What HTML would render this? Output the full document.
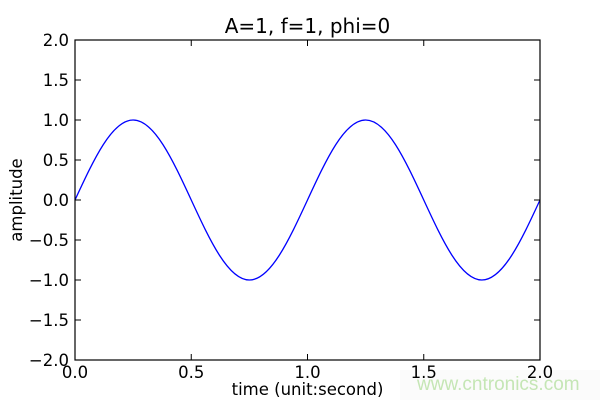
<!DOCTYPE html>
<html>
<head>
<meta charset="utf-8">
<style>
html,body{margin:0;padding:0;background:#fff;}
svg{display:block;}
text{font-family:"DejaVu Sans","Liberation Sans",sans-serif;fill:#000;}
</style>
</head>
<body>
<svg width="600" height="400" viewBox="0 0 600 400" xmlns="http://www.w3.org/2000/svg">
<rect x="0" y="0" width="600" height="400" fill="#fff"/>
<rect x="400" y="370" width="200" height="30" fill="#fbfbfb"/>
<!-- curve -->
<path d="M75,200 C93.957,159.017 112.090,120 133.125,120 C154.160,120 172.293,159.017 191.25,200 C210.207,240.983 228.340,280 249.375,280 C270.410,280 288.543,240.983 307.5,200 C326.457,159.017 344.590,120 365.625,120 C386.660,120 404.793,159.017 423.75,200 C442.707,240.983 460.840,280 481.875,280 C502.910,280 521.043,240.983 540,200" fill="none" stroke="#0000ff" stroke-width="1.3"/>
<!-- frame -->
<rect x="75" y="40" width="465" height="320" fill="none" stroke="#000" stroke-width="1.2"/>
<!-- ticks -->
<g stroke="#000" stroke-width="1">
<path d="M75,80h6M75,120h6M75,160h6M75,200h6M75,240h6M75,280h6M75,320h6"/>
<path d="M540,80h-6M540,120h-6M540,160h-6M540,200h-6M540,240h-6M540,280h-6M540,320h-6"/>
<path d="M191.25,360v-6M307.5,360v-6M423.75,360v-6"/>
<path d="M191.25,40v6M307.5,40v6M423.75,40v6"/>
</g>
<!-- y tick labels -->
<g font-size="16.5" text-anchor="end">
<text x="69" y="46">2.0</text>
<text x="69" y="86">1.5</text>
<text x="69" y="126">1.0</text>
<text x="69" y="166">0.5</text>
<text x="69" y="206">0.0</text>
<text x="69" y="246">−0.5</text>
<text x="69" y="286">−1.0</text>
<text x="69" y="326">−1.5</text>
<text x="69" y="366">−2.0</text>
</g>
<!-- x tick labels -->
<g font-size="16.5" text-anchor="middle">
<text x="75" y="378">0.0</text>
<text x="191.25" y="378">0.5</text>
<text x="307.5" y="378">1.0</text>
<text x="423.75" y="378">1.5</text>
<text x="540" y="378">2.0</text>
</g>
<text x="307.5" y="33" font-size="20" text-anchor="middle">A=1, f=1, phi=0</text>
<text x="307.5" y="395" font-size="16.5" text-anchor="middle">time (unit:second)</text>
<text transform="translate(22,200) rotate(-90)" x="0" y="0" font-size="16.5" text-anchor="middle">amplitude</text>
<text x="417" y="390" font-size="19" style="font-family:'Liberation Sans',sans-serif;fill:#c5e6b5;">www.cntronics.com</text>
</svg>
</body>
</html>
